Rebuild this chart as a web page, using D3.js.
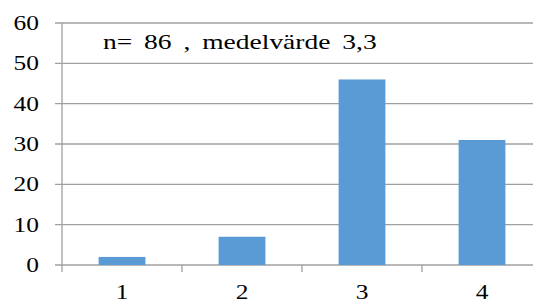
<!DOCTYPE html>
<html>
<head>
<meta charset="utf-8">
<script src="https://cdn.jsdelivr.net/npm/d3@7"></script>
<style>
  html, body { margin: 0; padding: 0; background: #fff; overflow: hidden; }
</style>
</head>
<body>
<div id="chart"></div>
<script>
// data
var categories = ['1', '2', '3', '4'];
var counts = [2, 7, 46, 31];
var yTicks = [0, 10, 20, 30, 40, 50, 60];
var title = 'n= 86 , medelvärde 3,3';

var width = 533, height = 303;
var font = "'Liberation Serif', 'Times New Roman', serif";
var stretch = 1.27; // text in the original is drawn wider than normal

var svg = d3.select('#chart').append('svg')
    .attr('width', width)
    .attr('height', height);

// plot area runs past the right edge of the window, as in the original
var x = d3.scaleBand()
    .domain(categories)
    .range([62, 542])
    .paddingInner(0.61)
    .paddingOuter(0.305);

var xCat = d3.scaleBand()
    .domain(categories)
    .range([62, 542]);

var y = d3.scaleLinear()
    .domain([0, 60])
    .range([265, 23]);

// gridlines
svg.append('g')
    .selectAll('line')
    .data(yTicks)
    .enter().append('line')
    .attr('x1', 55)
    .attr('x2', 542)
    .attr('y1', function (d) { return y(d); })
    .attr('y2', function (d) { return y(d); })
    .attr('stroke', '#a0a0a0')
    .attr('stroke-width', 1.3);

// y axis line
svg.append('line')
    .attr('x1', 62).attr('x2', 62)
    .attr('y1', y(60)).attr('y2', 272)
    .attr('stroke', '#a0a0a0')
    .attr('stroke-width', 1.3);

// category boundary ticks
svg.append('g')
    .selectAll('line')
    .data(categories.slice(1))
    .enter().append('line')
    .attr('x1', function (d) { return xCat(d); })
    .attr('x2', function (d) { return xCat(d); })
    .attr('y1', y(0))
    .attr('y2', 272)
    .attr('stroke', '#a0a0a0')
    .attr('stroke-width', 1.3);

// bars
svg.append('g')
    .selectAll('rect')
    .data(counts)
    .enter().append('rect')
    .attr('x', function (d, i) { return x(categories[i]); })
    .attr('width', x.bandwidth())
    .attr('y', function (d) { return y(d); })
    .attr('height', function (d) { return y(0) - y(d); })
    .attr('fill', '#5b9bd5');

// y labels
svg.append('g')
    .selectAll('text')
    .data(yTicks)
    .enter().append('text')
    .attr('transform', function (d) {
        return 'translate(39,' + (y(d) + 7) + ') scale(' + stretch + ',1)';
    })
    .attr('text-anchor', 'end')
    .attr('font-family', font)
    .attr('font-size', 20)
    .text(function (d) { return d; });

// x labels
svg.append('g')
    .selectAll('text')
    .data(categories)
    .enter().append('text')
    .attr('transform', function (d) {
        return 'translate(' + (xCat(d) + xCat.bandwidth() / 2) + ',299) scale(' + stretch + ',1)';
    })
    .attr('text-anchor', 'middle')
    .attr('font-family', font)
    .attr('font-size', 20)
    .text(function (d) { return d; });

// annotation
svg.append('text')
    .attr('transform', 'translate(103,49) scale(1.25,1)')
    .attr('font-family', font)
    .attr('font-size', 22)
    .style('word-spacing', '4px')
    .text(title);
</script>
</body>
</html>
